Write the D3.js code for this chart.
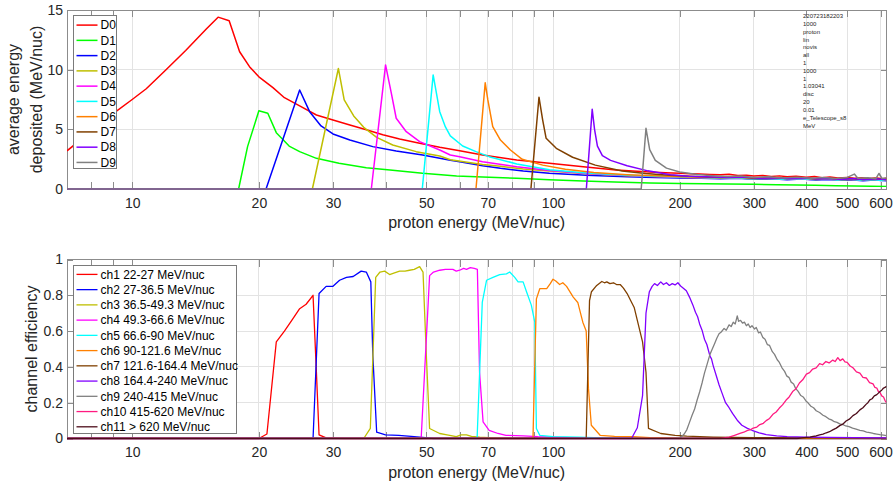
<!DOCTYPE html>
<html>
<head>
<meta charset="utf-8">
<script src="https://cdn.jsdelivr.net/npm/d3@7/dist/d3.min.js"></script>
<style>
  body { margin: 0; background: #fff; }
  text { font-family: "Liberation Sans", Arial, Helvetica, sans-serif; }
</style>
</head>
<body>
<svg id="chart" width="894" height="487"></svg>
<script>
// ---- data ----
var energyRange = [7, 620];
var tickEnergies = [8, 9, 10, 20, 30, 40, 50, 60, 70, 80, 90, 100, 200, 300, 400, 500, 600];
var gridEnergies = [10, 20, 30, 40, 50, 60, 70, 80, 90, 100, 200, 300, 400, 500, 600];
var labelEnergies = [10, 20, 30, 50, 70, 100, 200, 300, 400, 500, 600];
var depositTicks = [0, 5, 10, 15];
var effTicks = [0, 0.2, 0.4, 0.6, 0.8, 1];

var detNames = ["D0", "D1", "D2", "D3", "D4", "D5", "D6", "D7", "D8", "D9"];
var detColors = ["#ff0000", "#00ff00", "#0000ff", "#bfbf00", "#ff00ff", "#00ffff", "#ff8000", "#804000", "#8000ff", "#808080"];

var chNames = ["ch1 22-27 MeV/nuc", "ch2 27-36.5 MeV/nuc", "ch3 36.5-49.3 MeV/nuc", "ch4 49.3-66.6 MeV/nuc",
  "ch5 66.6-90 MeV/nuc", "ch6 90-121.6 MeV/nuc", "ch7 121.6-164.4 MeV/nuc", "ch8 164.4-240 MeV/nuc",
  "ch9 240-415 MeV/nuc", "ch10 415-620 MeV/nuc", "ch11 > 620 MeV/nuc"];
var chColors = ["#ff0000", "#0000ff", "#bfbf00", "#ff00ff", "#00ffff", "#ff8000", "#804000", "#8000ff", "#808080", "#ff1a80", "#4d0d1a"];

var runInfo = ["220723182203", "1000", "proton", "lin", "novis", "all", "1", "1000", "1", "1.03041", "disc", "20", "0.01", "e_Telescope_s8", "MeV"];

// average energy deposited, [energy, MeV/nuc]
var d0 = [[7,3.2],[9.16,6.5],[10,7.5],[10.8,8.4],[12,9.95],[13.4,11.6],[15,13.4],[16,14.4],[17,14.1],[18,11.5],[19,10.25],[20,9.4],[21.6,8.5],[23,7.65],[25,6.96],[27.4,6.2],[30,5.78],[32.9,5.36],[36,4.97],[39.4,4.55],[43.2,4.19],[48.2,3.83],[53.8,3.49],[60,3.21],[68,2.85],[82,2.43],[98,2.15],[118,1.87],[141,1.59],[170,1.42],[185,1.36],[200,1.31],[212,1.27],[223,1.25],[236,1.22],[250,1.2],[262,1.24],[275,1.14],[288,1.16],[300,1.09],[315,1.13],[330,1.05],[345,1.1],[360,1.02],[378,1.07],[400,0.98],[418,1.04],[436,0.95],[455,1.0],[475,0.93],[500,0.97],[520,0.9],[542,0.95],[565,0.88],[588,0.93],[605,0.86],[620,0.9]];
var d1 = [[7,0],[17.9,0],[18.8,3.55],[20,6.55],[21,6.35],[22,4.72],[23.6,3.6],[25,3.13],[27.4,2.57],[31,2.15],[36,1.79],[41,1.59],[49,1.31],[59,1.09],[68,1.0],[82,0.9],[98,0.78],[118,0.67],[140,0.58],[170,0.5],[200,0.47],[230,0.45],[260,0.42],[300,0.39],[340,0.36],[380,0.33],[420,0.31],[470,0.28],[520,0.26],[570,0.24],[620,0.22]];
var d2 = [[7,0],[20.8,0],[25,8.3],[26.4,6.48],[28.1,5.28],[30,4.61],[32.9,4.1],[37.3,3.55],[42.4,3.19],[49,2.85],[57,2.4],[60,2.28],[68,1.95],[75,1.73],[85,1.5],[98,1.31],[120,1.15],[150,1.03],[175,0.97],[200,0.93],[225,0.9],[250,0.86],[275,0.9],[300,0.82],[330,0.86],[360,0.78],[390,0.83],[420,0.76],[450,0.8],[480,0.73],[510,0.78],[545,0.7],[580,0.76],[620,0.7]];
var d3v = [[7,0],[23,0],[26.8,0],[30.9,10.1],[31.9,7.46],[33.6,6.12],[35.5,5.17],[38.1,4.33],[41.6,3.69],[47.3,3.13],[53.8,2.77],[57,2.45],[68,2.05],[75,1.9],[85,1.68],[98,1.5],[120,1.28],[150,1.12],[175,1.04],[200,0.98],[225,0.94],[250,0.9],[275,0.93],[300,0.85],[330,0.9],[360,0.82],[390,0.87],[420,0.79],[450,0.84],[480,0.76],[510,0.81],[545,0.74],[580,0.79],[620,0.73]];
var d4 = [[7,0],[37,0],[40,10.4],[41.3,8.0],[42.4,5.93],[44.8,4.8],[48.2,3.97],[53.8,3.27],[57,2.85],[60,2.71],[68,2.29],[82,1.87],[98,1.55],[120,1.3],[150,1.13],[175,1.05],[200,0.99],[225,0.95],[250,0.92],[270,0.96],[295,0.87],[320,0.92],[350,0.84],[380,0.89],[410,0.8],[440,0.86],[470,0.78],[500,0.84],[535,0.75],[570,0.82],[600,0.74],[620,0.78]];
var d5 = [[7,0],[48.9,0],[51.9,9.56],[53.8,6.48],[55.5,5.2],[57,4.45],[61,3.6],[65.6,3.13],[70.5,2.71],[82,2.1],[98,1.62],[120,1.35],[150,1.15],[175,1.06],[200,1.0],[225,0.96],[248,0.9],[272,0.95],[296,0.86],[322,0.91],[352,0.82],[384,0.88],[414,0.79],[444,0.85],[474,0.76],[505,0.83],[540,0.74],[575,0.8],[605,0.72],[620,0.76]];
var d6 = [[7,0],[65.6,0],[69,8.9],[70,7.46],[71.9,5.22],[75,4.1],[79.2,3.27],[84.5,2.49],[94.5,2.0],[107,1.65],[125,1.38],[150,1.2],[175,1.1],[200,1.03],[225,0.99],[250,0.95],[275,0.99],[300,0.9],[330,0.95],[360,0.87],[390,0.92],[420,0.84],[450,0.9],[480,0.81],[510,0.87],[545,0.79],[580,0.85],[620,0.78]];
var d7 = [[7,0],[88.6,0],[92.6,7.69],[94.5,5.78],[96.3,4.25],[101.8,3.41],[111.3,2.66],[126,2.0],[146,1.5],[166,1.3],[185,1.18],[200,1.1],[225,1.03],[250,0.97],[275,1.01],[300,0.92],[330,0.97],[360,0.88],[390,0.94],[420,0.85],[450,0.91],[480,0.83],[510,0.89],[545,0.8],[580,0.87],[620,0.8]];
var d8 = [[7,0],[120,0],[123.9,6.68],[125.5,5.0],[127.5,3.6],[131,2.8],[137,2.4],[150,1.95],[168,1.52],[190,1.2],[210,1.07],[240,1.0],[260,0.96],[285,1.0],[310,0.9],[335,0.95],[365,0.86],[395,0.92],[425,0.83],[455,0.89],[485,0.8],[515,0.87],[550,0.78],[585,0.85],[620,0.78]];
var d9 = [[7,0],[162,0],[166.3,5.09],[169.7,3.3],[175,2.4],[186,1.75],[200,1.42],[220,1.22],[240,1.12],[260,1.05],[280,1.08],[300,0.97],[325,1.02],[350,0.93],[380,0.99],[410,0.9],[440,0.96],[470,0.88],[500,0.97],[520,1.25],[530,0.9],[560,0.95],[585,0.86],[595,1.3],[605,0.88],[620,0.92]];
var detSeries = [d0, d1, d2, d3v, d4, d5, d6, d7, d8, d9];

// channel efficiency, [energy, efficiency]
var ch1 = [[7,0],[20,0],[20.9,0.025],[22,0.54],[23,0.6],[24.1,0.67],[25,0.725],[25.9,0.75],[26.9,0.8],[27.4,0.37],[27.8,0.02],[28.9,0.004],[32,0],[620,0]];
var ch2 = [[7,0],[26.9,0],[27.8,0.81],[28.9,0.85],[30,0.85],[31.1,0.884],[32.3,0.9],[33.5,0.905],[35,0.935],[36,0.93],[36.9,0.875],[37.3,0.47],[38.1,0.035],[40,0.02],[43,0.018],[46,0.012],[49,0.006],[52,0],[620,0]];
var ch3 = [[7,0],[35.5,0],[36.8,0.056],[37.9,0.9],[38.8,0.93],[39.8,0.935],[40.9,0.916],[42,0.925],[43.2,0.935],[44.5,0.935],[45.6,0.94],[46.8,0.945],[48.2,0.96],[49.1,0.93],[50,0.465],[50.9,0.056],[53.8,0.028],[56,0.02],[58.9,0.01],[60.5,0.02],[62.3,0.02],[64,0.012],[67,0.008],[72,0.004],[80,0],[620,0]];
var ch4 = [[7,0],[48.6,0],[50.9,0.91],[52,0.93],[53.8,0.94],[55.5,0.945],[57.8,0.945],[58.9,0.935],[60,0.94],[61.3,0.95],[62.3,0.945],[63.6,0.955],[65,0.95],[66.1,0.945],[66.9,0.37],[68.2,0.093],[70.5,0.046],[74,0.028],[77.3,0.018],[85,0.015],[92,0.01],[100,0.008],[110,0.005],[130,0],[620,0]];
var ch5 = [[7,0],[66,0],[67.9,0.76],[69.5,0.884],[72,0.9],[74.7,0.916],[77.5,0.92],[78.9,0.93],[81.1,0.9],[82.6,0.875],[84.9,0.875],[86.5,0.82],[88.8,0.745],[90.5,0.65],[91.3,0.056],[93,0.018],[100,0.01],[115,0.008],[130,0.004],[150,0],[620,0]];
var ch6 = [[7,0],[89.6,0],[91.3,0.78],[93,0.837],[96.6,0.837],[98.5,0.865],[100,0.89],[101.5,0.88],[103.7,0.86],[105.5,0.87],[107.7,0.85],[111.7,0.79],[114.5,0.76],[117.7,0.65],[119.9,0.6],[121.4,0.28],[123.3,0.074],[129.4,0.018],[140,0.012],[155,0.01],[170,0.005],[200,0],[620,0]];
var ch7 = [[7,0],[119.9,0],[122.1,0.77],[123.4,0.82],[127,0.855],[130.6,0.877],[132.5,0.87],[134.2,0.875],[136.5,0.865],[139.2,0.87],[141.5,0.86],[144.4,0.86],[147,0.84],[150,0.81],[153,0.77],[156,0.73],[158.6,0.66],[163.2,0.54],[166.3,0.37],[168.6,0.056],[180.3,0.028],[195,0.018],[207.8,0.013],[240,0.008],[300,0.005],[400,0.003],[620,0]];
var ch8 = [[7,0],[153.6,0],[158.6,0.06],[163.2,0.24],[166.3,0.7],[169.4,0.82],[172,0.85],[174.3,0.865],[177,0.855],[180.3,0.875],[183,0.86],[186,0.87],[189,0.855],[192,0.865],[195,0.858],[198,0.87],[201,0.852],[204,0.84],[207.4,0.825],[211,0.79],[215,0.745],[218,0.705],[220.6,0.68],[223,0.64],[226,0.605],[229,0.555],[232,0.525],[236,0.46],[238,0.445],[240,0.41],[244,0.355],[248,0.3],[252,0.255],[257,0.2],[262,0.172],[267,0.14],[274,0.102],[281,0.074],[289,0.058],[297,0.046],[309,0.032],[321,0.022],[340,0.015],[360,0.01],[400,0.008],[450,0.006],[520,0.005],[620,0.004]];
var ch9 = [[7,0],[200,0],[205,0.025],[208,0.05],[211,0.09],[214,0.13],[217,0.165],[220,0.215],[223,0.26],[226,0.31],[229,0.365],[232,0.41],[236,0.47],[239,0.5],[242,0.53],[245,0.56],[248,0.585],[251,0.595],[255,0.615],[258,0.605],[262,0.635],[265,0.625],[268,0.65],[271,0.64],[274,0.685],[276,0.655],[279,0.66],[282,0.645],[285,0.65],[288,0.63],[291,0.64],[294,0.62],[297,0.63],[301,0.612],[304,0.62],[308,0.59],[311,0.595],[315,0.565],[319,0.555],[323,0.525],[327,0.52],[332,0.485],[336,0.47],[341,0.44],[345,0.425],[350,0.395],[355,0.375],[359,0.35],[364,0.34],[368,0.315],[373,0.305],[377,0.28],[382,0.265],[388,0.24],[393,0.232],[399,0.21],[404,0.198],[410,0.18],[416,0.172],[422,0.155],[430,0.145],[438,0.13],[445,0.122],[452,0.11],[459,0.104],[466,0.094],[473,0.09],[480,0.082],[488,0.078],[496,0.07],[505,0.066],[515,0.058],[525,0.052],[536,0.046],[546,0.042],[556,0.036],[566,0.033],[577,0.028],[588,0.025],[598,0.022],[610,0.019],[620,0.016]];
var ch10 = [[7,0],[250,0],[262,0.008],[270,0.018],[278,0.028],[284,0.035],[290,0.045],[295,0.05],[299,0.058],[305,0.064],[310,0.078],[316,0.085],[321,0.1],[327,0.112],[333,0.135],[339,0.148],[345,0.17],[351,0.188],[358,0.215],[364,0.232],[371,0.262],[378,0.278],[385,0.31],[392,0.328],[400,0.36],[407,0.368],[414,0.388],[422,0.395],[430,0.418],[437,0.412],[445,0.43],[453,0.422],[462,0.438],[468,0.43],[475,0.452],[481,0.435],[488,0.445],[494,0.428],[500,0.425],[508,0.405],[516,0.395],[526,0.372],[536,0.365],[545,0.342],[555,0.338],[565,0.312],[576,0.305],[582,0.285],[588,0.282],[593,0.262],[598,0.258],[604,0.238],[610,0.232],[615,0.212],[620,0.2]];
var ch11 = [[7,0],[380,0],[390,0.003],[400,0.006],[408,0.008],[415,0.012],[422,0.014],[430,0.02],[438,0.024],[446,0.032],[454,0.038],[462,0.048],[471,0.058],[480,0.072],[488,0.08],[497,0.098],[506,0.108],[516,0.128],[526,0.14],[536,0.16],[545,0.172],[555,0.192],[560,0.2],[566,0.216],[573,0.222],[580,0.238],[588,0.245],[598,0.262],[604,0.27],[610,0.282],[615,0.285],[620,0.292]];
var chSeries = [ch1, ch2, ch3, ch4, ch5, ch6, ch7, ch8, ch9, ch10, ch11];

// ---- drawing ----
var svg = d3.select("#chart");
var axisGrey = "#8c8c8c", textCol = "#262626";
var x = d3.scaleLog().domain(energyRange).range([67, 886.5]);

function drawPanel(id, y, yTicks, series, colors, names, lw, legend) {
  var top = y.range()[1], bottom = y.range()[0], left = x.range()[0], right = x.range()[1];
  var g = svg.append("g").attr("class", id);

  // grid
  g.append("g").selectAll("line").data(gridEnergies).join("line")
    .attr("x1", function (d) { return x(d); }).attr("x2", function (d) { return x(d); })
    .attr("y1", top).attr("y2", bottom)
    .attr("stroke", "#e3e3e3").attr("stroke-width", 1).attr("shape-rendering", "crispEdges");
  g.append("g").selectAll("line").data(yTicks.slice(1, -1)).join("line")
    .attr("x1", left).attr("x2", right)
    .attr("y1", function (d) { return y(d); }).attr("y2", function (d) { return y(d); })
    .attr("stroke", "#e3e3e3").attr("stroke-width", 1).attr("shape-rendering", "crispEdges");

  // axes with inward ticks
  var fmtX = function (d) { return labelEnergies.indexOf(d) >= 0 ? d : ""; };
  var axes = [
    g.append("g").attr("transform", "translate(0," + bottom + ")")
      .call(d3.axisBottom(x).tickValues(tickEnergies).tickFormat(fmtX).tickSize(-7).tickSizeOuter(0).tickPadding(9)),
    g.append("g").attr("transform", "translate(0," + top + ")")
      .call(d3.axisTop(x).tickValues(tickEnergies).tickFormat("").tickSize(-7).tickSizeOuter(0)),
    g.append("g").attr("transform", "translate(" + left + ",0)")
      .call(d3.axisLeft(y).tickValues(yTicks).tickFormat(function (d) { return String(d); }).tickSize(-6).tickSizeOuter(0).tickPadding(4)),
    g.append("g").attr("transform", "translate(" + right + ",0)")
      .call(d3.axisRight(y).tickValues(yTicks).tickFormat("").tickSize(-6).tickSizeOuter(0))
  ];
  axes.forEach(function (a) {
    a.select(".domain").remove();
    a.selectAll(".tick line").attr("stroke", axisGrey).attr("shape-rendering", "crispEdges");
    a.selectAll(".tick text").attr("fill", textCol).style("font-size", "14px")
      .style("font-family", '"Liberation Sans", Arial, sans-serif');
  });

  // box
  g.append("rect").attr("x", left).attr("y", top).attr("width", right - left).attr("height", bottom - top)
    .attr("fill", "none").attr("stroke", axisGrey).attr("stroke-width", 1).attr("shape-rendering", "crispEdges");

  // curves
  svg.append("clipPath").attr("id", id + "-clip").append("rect")
    .attr("x", left).attr("y", top - 1).attr("width", right - left).attr("height", bottom - top + 2);
  var line = d3.line().x(function (d) { return x(d[0]); }).y(function (d) { return y(d[1]); });
  g.append("g").attr("clip-path", "url(#" + id + "-clip)")
    .selectAll("path").data(series).join("path")
    .attr("d", line).attr("fill", "none")
    .attr("stroke", function (d, i) { return colors[i]; })
    .attr("stroke-width", lw).attr("stroke-linejoin", "round");

  // legend
  var lg = g.append("g");
  lg.append("rect").attr("x", legend.x).attr("y", legend.y).attr("width", legend.w).attr("height", legend.h)
    .attr("fill", "#fff").attr("stroke", "#7a7a7a").attr("stroke-width", 1).attr("shape-rendering", "crispEdges");
  var rows = lg.selectAll("g.row").data(names).join("g").attr("class", "row")
    .attr("transform", function (d, i) { return "translate(0," + (legend.y + legend.first + i * legend.step) + ")"; });
  rows.append("line").attr("x1", legend.x + 3).attr("x2", legend.x + 24).attr("y1", 0).attr("y2", 0)
    .attr("stroke", function (d, i) { return colors[i]; }).attr("stroke-width", lw);
  rows.append("text").attr("x", legend.x + 27).attr("y", 4.3).attr("fill", "#000")
    .style("font-size", "12px").text(function (d) { return d; });
  return g;
}

var yDep = d3.scaleLinear().domain([0, 15]).range([189, 10]);
var yEff = d3.scaleLinear().domain([0, 1]).range([438.5, 259.5]);

drawPanel("dep", yDep, depositTicks, detSeries, detColors, detNames, 1.5,
  { x: 73.5, y: 15.5, w: 42.5, h: 153, first: 9.6, step: 15.26 });
drawPanel("eff", yEff, effTicks, chSeries, chColors, chNames, 1.3,
  { x: 73.5, y: 265.5, w: 163, h: 168, first: 8.9, step: 15.24 });

// run parameters text
svg.append("g").selectAll("text").data(runInfo).join("text")
  .attr("x", 803).attr("y", function (d, i) { return 18.2 + i * 7.81; })
  .attr("fill", textCol).style("font-size", "6px").text(function (d) { return d; });

// axis labels
function label(txt, tx, ty, rot) {
  svg.append("text").attr("transform", "translate(" + tx + "," + ty + ")" + (rot ? " rotate(-90)" : ""))
    .attr("text-anchor", "middle").attr("fill", textCol).style("font-size", "16px").text(txt);
}
label("proton energy (MeV/nuc)", 476.7, 228, false);
label("proton energy (MeV/nuc)", 476.7, 478, false);
label("average energy", 18.5, 99.5, true);
label("deposited (MeV/nuc)", 41.5, 99.5, true);
label("channel efficiency", 36.5, 349, true);
</script>
</body>
</html>
